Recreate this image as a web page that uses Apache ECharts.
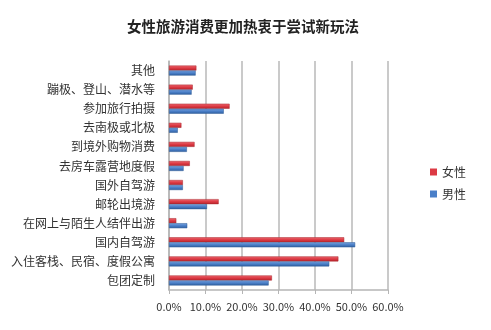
<!DOCTYPE html>
<html>
<head>
<meta charset="utf-8">
<script src="https://cdn.jsdelivr.net/npm/echarts@6/dist/echarts.min.js"></script>
<style>
  html, body { margin: 0; padding: 0; background: #fff; }
  #main { width: 491px; height: 330px; }
</style>
</head>
<body>
<div id="main"></div>
<script>
var categories = ["其他", "蹦极、登山、潜水等", "参加旅行拍摄", "去南极或北极", "到境外购物消费", "去房车露营地度假",
  "国外自驾游", "邮轮出境游", "在网上与陌生人结伴出游", "国内自驾游", "入住客栈、民宿、度假公寓", "包团定制"];
var female = [7.5, 6.5, 16.6, 3.4, 7.0, 5.7, 3.8, 13.6, 2.0, 48.0, 46.4, 28.2];
var male = [7.3, 6.2, 15.0, 2.4, 4.9, 4.0, 3.8, 10.4, 5.0, 51.0, 43.9, 27.3];
var xTicks = { min: 0, max: 60, interval: 10 };

var font = "'Noto Sans CJK SC', sans-serif";
var chart = echarts.init(document.getElementById("main"));

function grad(dark, mid, light) {
  return new echarts.graphic.LinearGradient(0, 0, 0, 1, [
    { offset: 0, color: light },
    { offset: 0.5, color: mid },
    { offset: 1, color: dark }
  ]);
}

var option = {
  animation: false,
  textStyle: { fontFamily: font },
  title: {
    text: "女性旅游消费更加热衷于尝试新玩法",
    left: 238,
    textAlign: "center",
    top: 14,
    textStyle: { fontFamily: font, fontSize: 14.5, fontWeight: "bold", color: "#222" }
  },
  legend: {
    orient: "vertical",
    left: 425,
    top: 161,
    itemWidth: 7,
    itemHeight: 7,
    itemGap: 10,
    icon: "rect",
    textStyle: { fontFamily: font, fontSize: 12, color: "#333" },
    data: [
      { name: "女性", itemStyle: { color: "#dc3a44", borderWidth: 0 } },
      { name: "男性", itemStyle: { color: "#4a7fc8", borderWidth: 0 } }
    ]
  },
  grid: { left: 169, right: 103, top: 61, bottom: 40 },
  xAxis: {
    type: "value",
    min: xTicks.min,
    max: xTicks.max,
    interval: xTicks.interval,
    axisLine: { show: true, lineStyle: { color: "#b5b5b5", width: 1.5 } },
    axisTick: { show: true, length: 4, lineStyle: { color: "#b5b5b5" } },
    splitLine: { show: true, lineStyle: { color: "#b8b8b8", width: 1.5 } },
    axisLabel: {
      margin: 11,
      fontSize: 11,
      color: "#333",
      fontFamily: font,
      formatter: function (v) { return v.toFixed(1) + "%"; }
    }
  },
  yAxis: {
    type: "category",
    inverse: true,
    data: categories,
    axisLine: { show: true, lineStyle: { color: "#b5b5b5", width: 1.5 } },
    axisTick: { show: false },
    axisLabel: { margin: 14, fontSize: 12, color: "#333", fontFamily: font }
  },
  series: [
    {
      name: "女性",
      type: "bar",
      barWidth: 5,
      barGap: "0%",
      data: female,
      itemStyle: { color: grad("#b8242c", "#dc3a44", "#ef6a72"), borderColor: "#a8242b", borderWidth: 0.5 }
    },
    {
      name: "男性",
      type: "bar",
      barWidth: 5,
      barGap: "0%",
      data: male,
      itemStyle: { color: grad("#2f5f9f", "#4a7fc8", "#7aa4de"), borderColor: "#2c5a96", borderWidth: 0.5 }
    }
  ]
};
chart.setOption(option);
</script>
</body>
</html>
